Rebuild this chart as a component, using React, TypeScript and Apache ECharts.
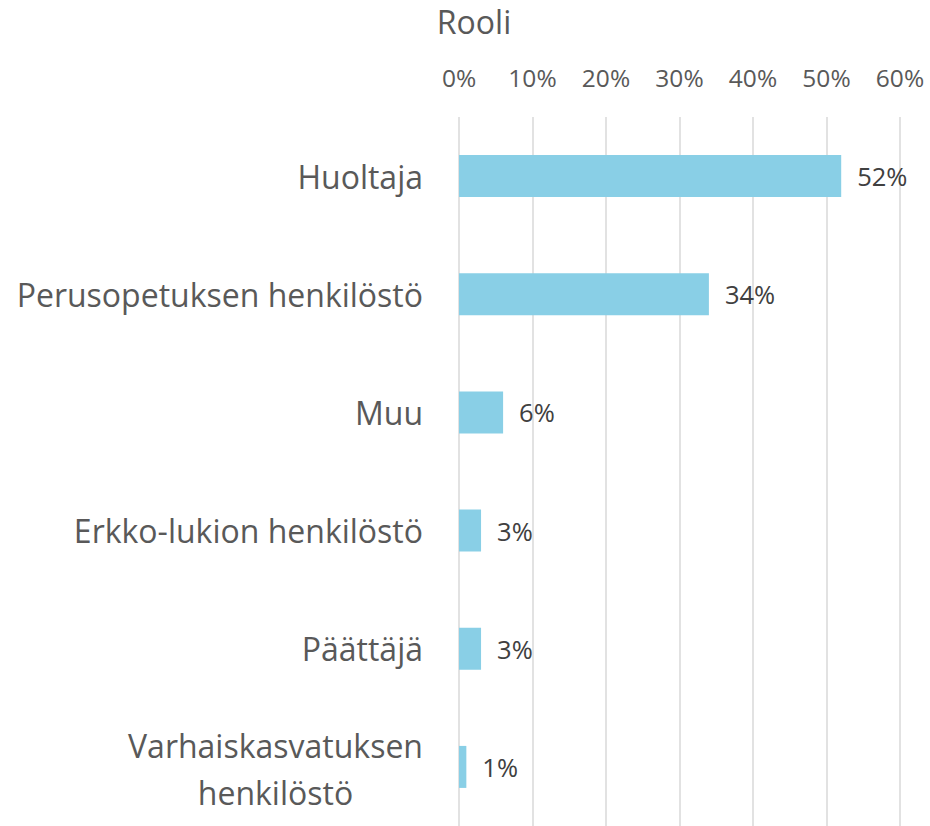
import React, { useEffect, useRef } from "react";
import * as echarts from "echarts";

const categories = [
  "Huoltaja",
  "Perusopetuksen henkilöstö",
  "Muu",
  "Erkko-lukion henkilöstö",
  "Päättäjä",
  "Varhaiskasvatuksen\nhenkilöstö",
];
const values = [52, 34, 6, 3, 3, 1];
const xTicks = [0, 10, 20, 30, 40, 50, 60];
const title = "Rooli";

export default function App() {
  const ref = useRef<HTMLDivElement>(null);
  useEffect(() => {
    if (!ref.current) return;
    const chart = echarts.init(ref.current, null, { renderer: "svg" });
    const font = "Open Sans";
    chart.setOption({
      animation: false,
      title: {
        text: title,
        left: 474,
        top: 3,
        padding: 0,
        textAlign: "center",
        textStyle: {
          fontFamily: font,
          fontSize: 32,
          lineHeight: 36,
          fontWeight: "normal",
          color: "#595959",
        },
      },
      grid: { left: 459, right: 30, top: 117, bottom: -5, containLabel: false },
      xAxis: {
        type: "value",
        position: "top",
        min: xTicks[0],
        max: xTicks[xTicks.length - 1],
        interval: 10,
        axisLine: { show: false },
        axisTick: { show: false },
        splitLine: { show: true, lineStyle: { color: "#d9d9d9", width: 1.5 } },
        axisLabel: {
          formatter: "{value}%",
          fontFamily: font,
          fontSize: 24.5,
          color: "#595959",
          margin: 27,
        },
      },
      yAxis: {
        type: "category",
        data: categories,
        inverse: true,
        axisLine: { show: false },
        axisTick: { show: false },
        axisLabel: {
          fontFamily: font,
          fontSize: 32,
          color: "#595959",
          margin: 36,
          lineHeight: 47,
          formatter: (v: string) =>
            v.includes("\n")
              ? v
                  .split("\n")
                  .map((l) => `{c|${l}}`)
                  .join("\n")
              : v,
          rich: {
            c: {
              fontFamily: font,
              fontSize: 32,
              color: "#595959",
              width: 295,
              align: "center",
              lineHeight: 47,
              padding: [4, 0, 0, 0],
            },
          },
        },
      },
      series: [
        {
          type: "bar",
          data: values,
          barWidth: 42,
          itemStyle: { color: "#89CFE6" },
          label: {
            show: true,
            position: "right",
            distance: 16,
            formatter: "{c}%",
            fontFamily: font,
            fontSize: 25.5,
            color: "#404040",
          },
        },
      ],
    });
    return () => chart.dispose();
  }, []);
  return (
    <div
      ref={ref}
      style={{ position: "absolute", left: 0, top: 0, width: 930, height: 826 }}
    />
  );
}
